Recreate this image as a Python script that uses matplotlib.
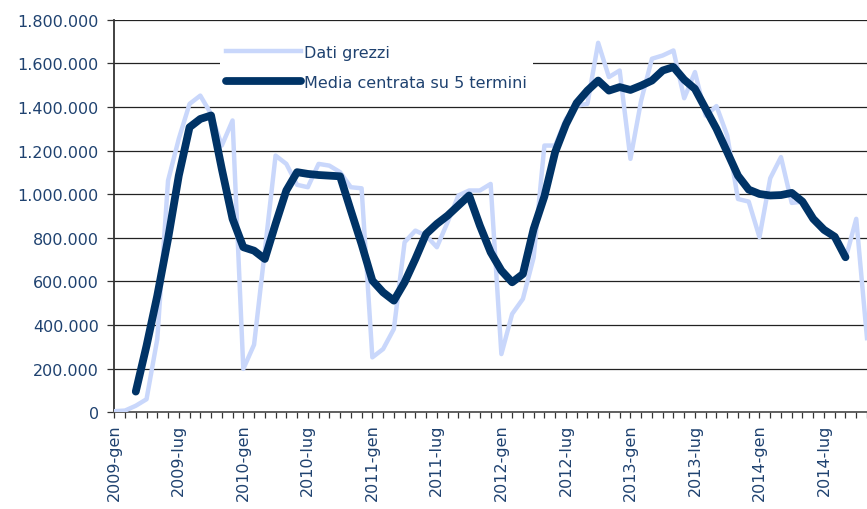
import numpy as np
import matplotlib.pyplot as plt
from matplotlib.ticker import FuncFormatter

# dati mensili, da gen 2009
anni = [2009, 2010, 2011, 2012, 2013, 2014]
mesi = ['gen', 'feb', 'mar', 'apr', 'mag', 'giu', 'lug', 'ago', 'set', 'ott', 'nov', 'dic']

dati_grezzi = [
    5000, 8000, 30000, 60000, 336000, 1062000, 1254000, 1414000, 1452000, 1368000, 1223000, 1338000,
    199000, 310000, 740000, 1177000, 1139000, 1043000, 1032000, 1139000, 1131000, 1101000, 1032000, 1027000,
    252000, 290000, 382000, 780000, 833000, 810000, 757000, 872000, 994000, 1017000, 1017000, 1047000,
    267000, 451000, 520000, 710000, 1223000, 1223000, 1345000, 1406000, 1414000, 1694000, 1537000, 1567000,
    1162000, 1430000, 1621000, 1636000, 1659000, 1440000, 1560000, 1360000, 1404000, 1269000, 978000, 966000,
    803000, 1073000, 1170000, 960000, 966000, 885000, 826000, 803000, 703000, 887000, 340000,
]

# media mobile centrata su 5 termini (parte dal 3o mese)
media_5 = [
    None, None,
    95000, 305000, 535000, 795000, 1085000, 1307000, 1345000, 1361000, 1116000, 887000,
    757000, 741000, 703000, 864000, 1017000, 1101000, 1093000, 1088000, 1085000, 1082000, 925000, 771000,
    604000, 550000, 512000, 596000, 703000, 818000, 864000, 902000, 948000, 994000, 856000, 734000,
    650000, 596000, 634000, 841000, 990000, 1193000, 1320000, 1418000, 1475000, 1521000, 1475000, 1491000,
    1478000, 1498000, 1521000, 1567000, 1583000, 1525000, 1483000, 1391000, 1300000, 1193000, 1085000, 1021000,
    1001000, 994000, 996000, 1006000, 966000, 887000, 837000, 805000, 711000,
]

etichette = [f"{a}-{m}" for a in anni for m in mesi][:len(dati_grezzi)]
x = np.arange(len(dati_grezzi))
ma = np.array([np.nan if v is None else v for v in media_5], dtype=float)

blu_testo = '#1F4270'

fig = plt.figure(figsize=(8.67, 5.1), dpi=100)
ax = fig.add_axes([0.1318, 0.1896, 0.8682, 0.7698])

ax.plot(x, dati_grezzi, color='#C9D7FB', lw=3.2, label='Dati grezzi', zorder=3)
ax.plot(np.arange(len(ma)), ma, color='#003366', lw=5.6, solid_capstyle='round',
        solid_joinstyle='round', label='Media centrata su 5 termini', zorder=4)

ax.set_ylim(0, 1800000)
ax.set_xlim(0, 69.18)
ax.set_yticks(np.arange(0, 1800001, 200000))
ax.yaxis.set_major_formatter(FuncFormatter(lambda v, p: f"{int(v):,}".replace(',', '.')))
ax.yaxis.grid(True, color='#222222', lw=0.9)
ax.set_axisbelow(True)

ax.set_xticks(x)
ax.set_xticklabels([e if i % 6 == 0 else '' for i, e in enumerate(etichette)], rotation=90)

ax.tick_params(axis='both', direction='out', length=5, width=0.9, color='#333333',
               labelsize=11.5, labelcolor=blu_testo)
ax.tick_params(axis='x', length=4, pad=4)
ax.tick_params(axis='y', pad=6)

for s in ['top', 'right']:
    ax.spines[s].set_visible(False)
ax.spines['left'].set_color('#333333')
ax.spines['left'].set_linewidth(1.3)
ax.spines['bottom'].set_color('#555555')
ax.spines['bottom'].set_linewidth(1.3)

leg = ax.legend(loc='upper left', bbox_to_anchor=(0.134, 0.965), fontsize=11.5,
                handlelength=4.7, handletextpad=0.15, labelspacing=0.95,
                frameon=True, fancybox=False, borderpad=0.4, borderaxespad=0.3)
leg.get_frame().set_facecolor('white')
leg.get_frame().set_edgecolor('none')
leg.get_frame().set_alpha(1)
for t in leg.get_texts():
    t.set_color(blu_testo)

fig.savefig('out.png', dpi=100)
